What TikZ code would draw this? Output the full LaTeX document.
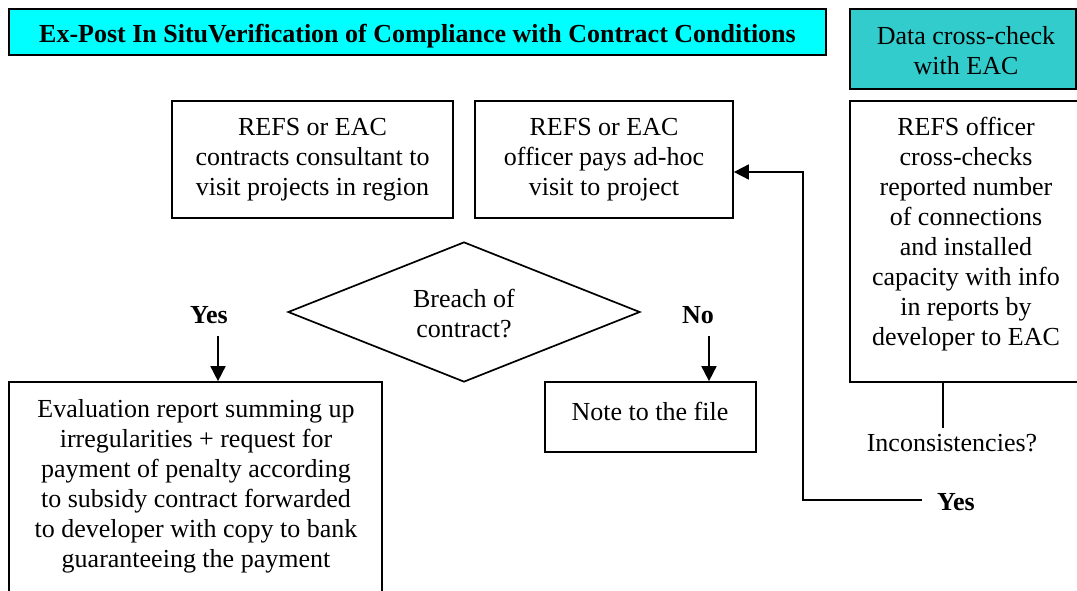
\documentclass[tikz,border=0pt]{standalone}
\usepackage{fontspec}
\setmainfont{Liberation Serif}
\usetikzlibrary{shapes.geometric,arrows.meta}
\definecolor{hdrcyan}{HTML}{00FFFF}
\definecolor{datacyan}{HTML}{33CCCC}
\begin{document}
\begin{tikzpicture}[x=1pt,y=-1pt,
  every node/.style={font=\fontsize{26}{30}\selectfont},
  box/.style={draw,line width=1.7pt,inner sep=0pt},
  txt/.style={align=center,inner sep=0pt},
  lbl/.style={font=\fontsize{26}{30}\selectfont\bfseries,inner sep=0pt},
  conn/.style={line width=1.7pt},
  arr/.style={line width=1.7pt,-{Triangle[length=15pt,width=15pt]}}]
\useasboundingbox (0,0) rectangle (1077,590);
\fill[white] (0,0) rectangle (1077,590);
% header boxes
\node[box,fill=hdrcyan,minimum width=817,minimum height=46] (hdr) at (417.5,32) {};
\node[lbl] at (417.5,36) (hdrt) {Ex-Post In SituVerification of Compliance with Contract Conditions};
\node[box,fill=datacyan,minimum width=226,minimum height=80] (data) at (963,49) {};
\node[txt] (datat) at (966,51) {Data cross-check\\with EAC};
% upper boxes
\node[box,minimum width=281,minimum height=117] (b1) at (312.5,159.5) {};
\node[txt] (b1t) at (312.5,160) {REFS or EAC\\contracts consultant to\\visit projects in region};
\node[box,minimum width=258,minimum height=117] (b2) at (604,159.5) {};
\node[txt] (b2t) at (604,160) {REFS or EAC\\officer pays ad-hoc\\visit to project};
\node[box,minimum width=240,minimum height=281] (rc) at (970,241.5) {};
\node[txt] (rct) at (966,234) {REFS officer\\cross-checks\\reported number\\of connections\\and installed\\capacity with info\\in reports by\\developer to EAC};
% diamond
\node[draw,line width=1.7pt,diamond,minimum width=352,minimum height=140,inner sep=0pt] (dia) at (464,312) {};
\node[txt] (diat) at (464,314) {Breach of\\contract?};
% yes / no
\node[lbl] (yes1) at (209,315) {Yes};
\node[lbl] (no1) at (698,315) {No};
\coordinate (ya) at (218,336);
\coordinate (na) at (709,336);
% lower boxes
\node[box,minimum width=373,minimum height=230] (ev) at (195.5,497) {};
\node[txt] (evt) at (196,486) {Evaluation report summing up\\irregularities + request for\\payment of penalty according\\to subsidy contract forwarded\\to developer with copy to bank\\guaranteeing the payment};
\node[box,minimum width=211,minimum height=70] (note) at (650.5,417) {};
\node[txt] (notet) at (650,411) {Note to the file};
\draw[arr] (ya) -- (ya |- ev.north);
\draw[arr] (na) -- (na |- note.north);
% inconsistencies
\node[txt] (inc) at (952,443) {Inconsistencies?};
\coordinate (rcb) at (943,382);
\coordinate (rci) at (943,428);
\draw[conn] (rcb) -- (rci);
\node[lbl] (yes2) at (956,502) {Yes};
\coordinate (ly) at (922,500);
\coordinate (lc) at (803,500);
\draw[arr] (ly) -- (lc) |- ([yshift=-12.5pt]b2.east);
\end{tikzpicture}
\end{document}
